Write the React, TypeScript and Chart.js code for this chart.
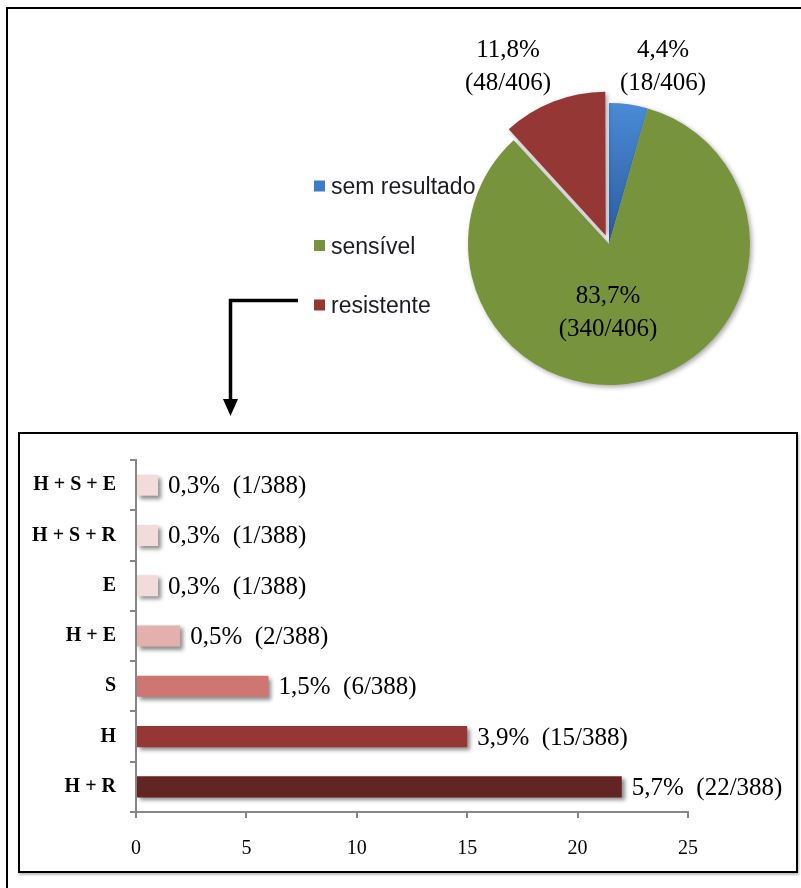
import { useEffect, useRef } from "react";
import { Chart, registerables } from "chart.js";

Chart.register(...registerables);

// Pie: result of the susceptibility test
const pieLabels = ["sem resultado", "sensível", "resistente"];
const pieCounts = [18, 340, 48];
const pieTotal = 406;
const pieColors = ["#3d7cc9", "#77933c", "#953735"];
// arc offset option is applied at a quarter of its value by ArcElement
const pieExplode = [0, 0, 36];

// Bars: resistance patterns among the resistant isolates
const barCategories = ["H + S + E", "H + S + R", "E", "H + E", "S", "H", "H + R"];
const barCounts = [1, 1, 1, 2, 6, 15, 22];
const barTotal = 388;
const barColors = ["#f2dcdb", "#f2dcdb", "#f2dcdb", "#e3b0ae", "#cf7672", "#953735", "#632523"];
const xTickValues = [0, 5, 10, 15, 20, 25];

const SERIF = '"Liberation Serif", "Times New Roman", serif';
const SANS = '"Liberation Sans", Arial, sans-serif';
const PIE_RADIUS = 141;

const pct = (n: number, total: number) =>
  (Math.round((n / total) * 1000) / 10).toFixed(1).replace(".", ",") + "%";

const pieDecor = {
  id: "pieDecor",
  beforeDatasetsDraw(chart: any) {
    const ctx = chart.ctx;
    ctx.save();
    ctx.shadowColor = "rgba(0,0,0,0.35)";
    ctx.shadowBlur = 5;
    ctx.shadowOffsetX = 2;
    ctx.shadowOffsetY = 2;
  },
  afterDatasetsDraw(chart: any) {
    const ctx = chart.ctx;
    ctx.restore();
    const arcs = chart.getDatasetMeta(0).data;
    const cx = arcs[0].x;
    const cy = arcs[0].y;

    // value labels, placed around the pie centre
    const anchors = [
      [54, -187],
      [-1, 59],
      [-101, -187],
    ];
    ctx.save();
    ctx.fillStyle = "#000";
    ctx.font = `25px ${SERIF}`;
    ctx.textAlign = "center";
    ctx.textBaseline = "alphabetic";
    pieCounts.forEach((v, i) => {
      const [dx, dy] = anchors[i];
      ctx.fillText(pct(v, pieTotal), cx + dx, cy + dy);
      ctx.fillText(`(${v}/${pieTotal})`, cx + dx, cy + dy + 33);
    });
    ctx.restore();

    // legend
    ctx.save();
    ctx.font = `23px ${SANS}`;
    ctx.textAlign = "left";
    ctx.textBaseline = "alphabetic";
    pieLabels.forEach((label, i) => {
      const y = 177 + i * 59.5;
      ctx.fillStyle = pieColors[i];
      ctx.fillRect(306, y - 5.5, 11, 11);
      ctx.fillStyle = "#1b1b24";
      ctx.fillText(label, 323, y + 8);
    });
    ctx.restore();

    // connector from the "resistente" entry down to the breakdown below
    ctx.save();
    ctx.strokeStyle = "#000";
    ctx.lineWidth = 3.5;
    ctx.beginPath();
    ctx.moveTo(290, 291.5);
    ctx.lineTo(222.5, 291.5);
    ctx.lineTo(222.5, 392);
    ctx.stroke();
    ctx.fillStyle = "#000";
    ctx.beginPath();
    ctx.moveTo(215, 390);
    ctx.lineTo(230, 390);
    ctx.lineTo(222.5, 407);
    ctx.closePath();
    ctx.fill();
    ctx.restore();
  },
};

const barDecor = {
  id: "barDecor",
  beforeDatasetsDraw(chart: any) {
    const ctx = chart.ctx;
    ctx.save();
    ctx.shadowColor = "rgba(0,0,0,0.45)";
    ctx.shadowBlur = 4;
    ctx.shadowOffsetX = 3;
    ctx.shadowOffsetY = 3;
  },
  afterDatasetsDraw(chart: any) {
    const ctx = chart.ctx;
    ctx.restore();
    const bars = chart.getDatasetMeta(0).data;
    ctx.save();
    ctx.fillStyle = "#000";
    ctx.font = `25px ${SERIF}`;
    ctx.textAlign = "left";
    ctx.textBaseline = "alphabetic";
    bars.forEach((el: any, i: number) => {
      const v = barCounts[i];
      ctx.fillText(`${pct(v, barTotal)}  (${v}/${barTotal})`, el.x + 10, el.y + 8);
    });
    ctx.restore();
  },
};

export default function App() {
  const pieRef = useRef<HTMLCanvasElement>(null);
  const barRef = useRef<HTMLCanvasElement>(null);

  useEffect(() => {
    const pie = new Chart(pieRef.current as HTMLCanvasElement, {
      type: "pie",
      data: {
        labels: pieLabels,
        datasets: [
          {
            data: pieCounts,
            backgroundColor: (c: any) => {
              if (c.dataIndex !== 0) return pieColors[c.dataIndex];
              const area = c.chart.chartArea;
              if (!area) return pieColors[0];
              const cy = (area.top + area.bottom) / 2;
              const g = c.chart.ctx.createLinearGradient(0, cy - PIE_RADIUS, 0, cy);
              g.addColorStop(0, "#4a8ad6");
              g.addColorStop(1, "#2b5c9f");
              return g;
            },
            borderWidth: 0,
            offset: pieExplode,
          } as any,
        ],
      },
      options: {
        responsive: false,
        animation: false,
        rotation: 0,
        radius: PIE_RADIUS,
        layout: { padding: { left: 413, top: 47, right: 0, bottom: 0 } },
        plugins: { legend: { display: false }, tooltip: { enabled: false } },
      } as any,
      plugins: [pieDecor],
    });

    const bar = new Chart(barRef.current as HTMLCanvasElement, {
      type: "bar",
      data: {
        labels: barCategories,
        datasets: [
          {
            data: barCounts,
            backgroundColor: barColors,
            borderWidth: 0,
            barPercentage: 0.42,
            categoryPercentage: 1,
          },
        ],
      },
      options: {
        responsive: false,
        animation: false,
        indexAxis: "y",
        layout: { padding: { top: 22, right: 108, left: 0, bottom: 0 } },
        plugins: { legend: { display: false }, tooltip: { enabled: false } },
        scales: {
          x: {
            min: 0,
            max: 25,
            afterBuildTicks: (s: any) => {
              s.ticks = xTickValues.map((value) => ({ value }));
            },
            ticks: { color: "#000", font: { family: SERIF, size: 20 }, padding: 19 },
            grid: { drawOnChartArea: false, drawTicks: true, tickLength: 6, color: "#868686", lineWidth: 2 },
            border: { color: "#868686", width: 2 },
            afterFit: (s: any) => {
              s.height = 59;
            },
          },
          y: {
            ticks: { color: "#000", font: { family: SERIF, size: 20, weight: "bold" }, padding: 14 },
            grid: { offset: true, drawOnChartArea: false, drawTicks: true, tickLength: 6, color: "#868686", lineWidth: 2 },
            border: { color: "#868686", width: 2 },
            afterFit: (s: any) => {
              s.width = 116;
            },
          },
        },
      } as any,
      plugins: [barDecor],
    });

    return () => {
      pie.destroy();
      bar.destroy();
    };
  }, []);

  return (
    <div style={{ position: "fixed", left: 0, top: 0, width: 801, height: 888, overflow: "hidden", background: "#fff" }}>
      <div style={{ position: "absolute", left: 6, top: 7, width: 1000, height: 1000, border: "2px solid #000" }} />
      <canvas ref={pieRef} width={789} height={423} style={{ position: "absolute", left: 8, top: 9, width: 789, height: 423 }} />
      <div
        style={{
          position: "absolute",
          left: 18,
          top: 432,
          width: 776,
          height: 437,
          border: "2px solid #000",
          boxShadow: "1px 2px 2px rgba(0,0,0,0.25)",
          background: "#fff",
        }}
      />
      <canvas ref={barRef} width={776} height={437} style={{ position: "absolute", left: 20, top: 434, width: 776, height: 437 }} />
    </div>
  );
}
